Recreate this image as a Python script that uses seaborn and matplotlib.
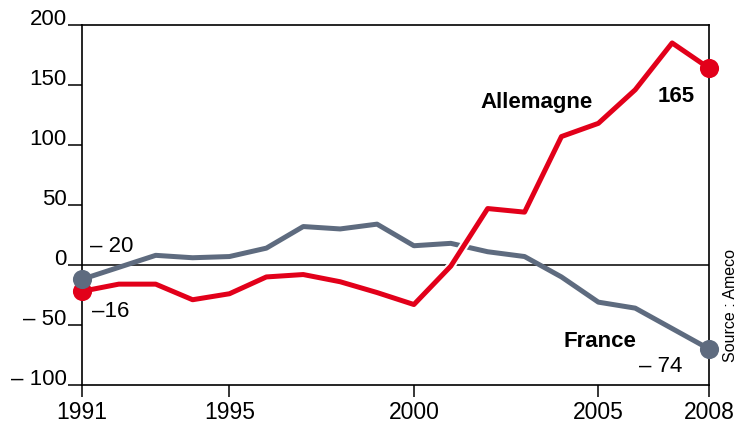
import matplotlib
matplotlib.use('Agg')
import matplotlib.pyplot as plt
import matplotlib.patheffects as pe
import pandas as pd
import seaborn as sns

# Balance courante (Mds EUR)
years = list(range(1991, 2009))
allemagne = [-22, -16, -16, -29, -24, -10, -8, -14, -23, -33, -1, 47, 44, 107, 118, 146, 185, 164]
france = [-12, -2, 8, 6, 7, 14, 32, 30, 34, 16, 18, 11, 7, -10, -31, -36, -53, -70]

xticks = [1991, 1995, 2000, 2005, 2008]
yticks = [-100, -50, 0, 50, 100, 150, 200]
ytick_labels = ['\u2013 100', '\u2013 50', '0', '50', '100', '150', '200']

red = '#e2001a'
grey = '#5e6b7f'

sns.set_theme(style='ticks')
plt.rcParams['font.family'] = ['Liberation Sans', 'DejaVu Sans']
plt.rcParams['text.color'] = 'black'

df = pd.DataFrame({'annee': years, 'Allemagne': allemagne, 'France': france})

fig = plt.figure(figsize=(7.38, 4.23), dpi=100)
ax = fig.add_axes([0.111, 0.090, 0.8497, 0.851])

ax.axhline(0, color='black', lw=1.1, zorder=1)

sns.lineplot(data=df, x='annee', y='France', color=grey, lw=3.6, ax=ax,
             clip_on=False, zorder=3)
sns.lineplot(data=df, x='annee', y='Allemagne', color=red, lw=3.6, ax=ax,
             clip_on=False, zorder=4,
             path_effects=[pe.Stroke(linewidth=6.5, foreground='white'), pe.Normal()])

# points de debut et de fin
ends = df.iloc[[0, -1]]
sns.scatterplot(data=ends, x='annee', y='Allemagne', color=red, s=190, linewidth=0,
                ax=ax, clip_on=False, zorder=5)
sns.scatterplot(data=ends, x='annee', y='France', color=grey, s=190, linewidth=0,
                ax=ax, clip_on=False, zorder=6)

ax.set_xlim(1991, 2008)
ax.set_ylim(-100, 200)
ax.set_xticks(xticks)
ax.set_yticks(yticks)
ax.set_yticklabels(ytick_labels)
ax.set_xlabel('')
ax.set_ylabel('')

for s in ax.spines.values():
    s.set_visible(True)
    s.set_linewidth(1.2)
    s.set_color('black')

ax.tick_params(axis='y', length=10, width=1.1, pad=1, labelsize=16, colors='black')
ax.tick_params(axis='x', length=8.5, width=1.1, pad=3, labelsize=16.5, colors='black')
for lab in ax.get_yticklabels():
    lab.set_va('baseline')

# libelles
ax.text(2001.8, 131, 'Allemagne', fontsize=16, fontweight='bold', ha='left', va='baseline')
ax.text(2006.6, 136, '165', fontsize=16, fontweight='bold', ha='left', va='baseline')
ax.text(2004.05, -68, 'France', fontsize=16, fontweight='bold', ha='left', va='baseline')
ax.text(2007.27, -89, '\u2013 74', fontsize=16, ha='right', va='baseline')
ax.text(1991.22, 11, '\u2013 20', fontsize=16, ha='left', va='baseline')
ax.text(1991.27, -43, '\u201316', fontsize=16, ha='left', va='baseline')

ax.text(1.035, 0.065, 'Source : Ameco', transform=ax.transAxes, rotation=90,
        fontsize=11.5, ha='center', va='bottom')

fig.savefig('out.png', dpi=100)
